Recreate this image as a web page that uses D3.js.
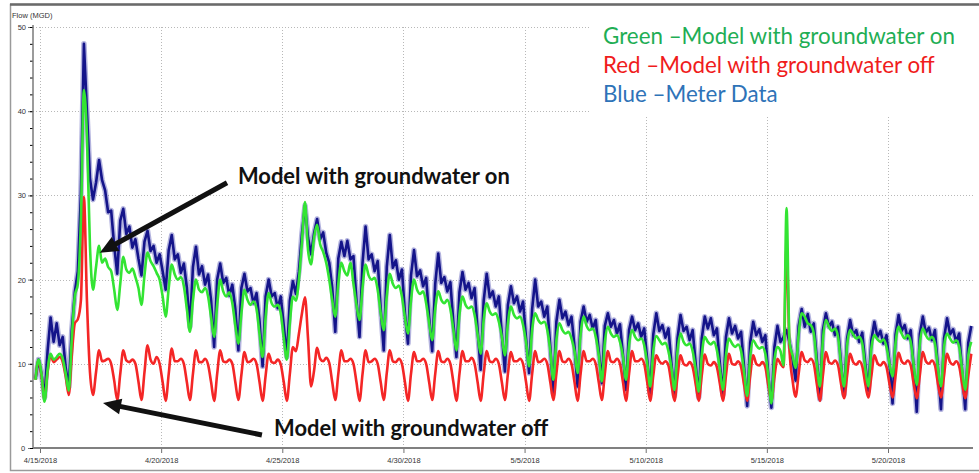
<!DOCTYPE html>
<html>
<head>
<meta charset="utf-8">
<script src="https://cdn.jsdelivr.net/npm/d3@7"></script>
<style>
  body { margin: 0; background: #fff; }
  svg { display: block; }
</style>
</head>
<body>
<div id="plot"></div>
<script>
// Flow (MGD), one row per day.
// Samples every 3 hours: 01:30, 04:30, 07:30 ... 22:30 (first row starts 4/14 19:30)
const sampleStart = Date.UTC(2018, 3, 14, 19, 30);
const stepHours = 3;

const meterFlow = [
  8.2, 10.5,                                     // 4/14
  8.8, 6.0, 11.5, 15.5, 12.6, 14.8, 12.2, 13.2,  // 4/15
  9.5, 7.2, 14.0, 18.5, 21.0, 30.0, 48.0, 40.0,  // 4/16
  32.0, 29.5, 31.5, 34.2, 31.8, 30.6, 28.0, 28.2,
  24.0, 20.7, 27.0, 28.4, 25.4, 26.3, 23.8, 24.8,
  22.5, 20.5, 24.5, 25.8, 23.4, 24.0, 22.0, 23.0,
  21.0, 18.8, 23.5, 25.3, 22.4, 23.0, 20.8, 21.9,  // 4/20
  19.0, 14.4, 21.5, 23.9, 20.6, 21.6, 19.4, 20.6,
  17.5, 12.0, 20.0, 21.9, 19.6, 20.2, 18.1, 19.4,
  16.5, 11.6, 19.0, 20.7, 18.6, 19.0, 17.2, 18.4,
  15.0, 9.7, 18.0, 20.0, 18.0, 18.4, 16.6, 18.0,
  14.5, 10.8, 17.5, 19.8, 18.3, 21.0, 25.5, 28.8,  // 4/25
  25.0, 23.0, 25.5, 27.2, 24.8, 25.6, 23.2, 22.0,
  19.0, 13.8, 22.5, 24.5, 22.8, 24.6, 22.4, 22.8,
  17.5, 13.2, 22.0, 26.3, 22.4, 23.0, 21.0, 22.2,
  16.5, 11.6, 21.5, 25.3, 21.4, 22.3, 20.0, 21.2,
  16.0, 12.4, 20.5, 23.5, 20.4, 21.1, 19.2, 20.2,  // 4/30
  15.5, 11.5, 19.5, 23.1, 19.6, 20.3, 18.6, 19.7,
  14.8, 10.8, 18.5, 20.9, 18.8, 19.6, 17.8, 19.0,
  14.0, 9.3, 17.5, 20.7, 17.9, 18.6, 16.8, 18.0,
  13.5, 9.1, 17.0, 19.2, 17.2, 18.0, 16.2, 17.4,
  13.0, 8.9, 16.5, 20.0, 16.8, 17.4, 15.6, 16.8,   // 5/5
  12.0, 6.5, 15.0, 17.6, 15.4, 16.2, 14.6, 15.6,
  12.0, 7.3, 15.0, 16.8, 15.0, 15.8, 14.2, 15.2,
  11.5, 7.7, 14.5, 16.0, 14.4, 15.2, 13.6, 14.7,
  11.0, 6.9, 14.0, 15.6, 14.0, 14.8, 13.2, 14.2,
  10.5, 6.5, 13.5, 16.0, 13.9, 14.6, 13.1, 14.2,   // 5/10
  10.0, 6.2, 13.0, 15.8, 13.9, 14.4, 12.8, 14.0,
  10.0, 6.0, 13.0, 15.6, 14.2, 15.4, 13.4, 14.2,
  10.0, 6.3, 13.2, 15.4, 13.6, 14.5, 13.0, 13.8,
  9.5, 5.0, 12.5, 15.0, 13.4, 14.1, 12.6, 13.4,
  8.5, 4.8, 12.0, 14.5, 12.6, 13.2, 14.0, 12.5,    // 5/15
  10.5, 8.0, 14.5, 16.5, 14.4, 15.9, 13.8, 14.8,
  10.5, 5.8, 14.0, 16.0, 14.4, 15.0, 13.4, 14.4,
  10.0, 6.3, 13.0, 15.2, 13.4, 14.0, 12.6, 13.7,
  10.0, 6.8, 12.8, 15.0, 13.2, 13.9, 12.4, 13.4,
  10.0, 5.3, 13.5, 15.8, 13.9, 14.6, 13.0, 14.0,   // 5/20
  9.5, 4.3, 13.5, 15.6, 13.7, 14.3, 12.8, 14.0,
  9.5, 4.6, 13.0, 15.4, 13.5, 14.1, 12.6, 13.6,
  9.0, 4.6, 12.5, 14.5                             // 5/23
];

const modelGwOn = [
  8.1, 10.5,
  8.8, 5.5, 9.2, 11.2, 10.5, 10.8, 11.2, 10.6,
  8.8, 6.8, 13.0, 18.0, 19.5, 27.0, 42.5, 37.0,
  24.0, 18.8, 21.5, 24.0, 22.0, 22.5, 21.5, 21.0,
  18.8, 16.4, 19.5, 22.7, 21.2, 20.8, 21.3, 20.3,
  19.0, 17.0, 20.5, 23.2, 22.2, 21.6, 20.8, 20.0,
  18.0, 15.6, 19.0, 21.8, 20.6, 20.0, 20.3, 19.2,
  16.5, 13.8, 17.5, 20.0, 18.8, 18.5, 19.0, 18.0,
  15.5, 13.2, 17.0, 20.0, 18.6, 18.0, 18.5, 17.2,
  14.5, 12.4, 16.0, 18.8, 17.6, 17.0, 17.4, 16.5,
  13.5, 10.8, 15.5, 18.4, 17.2, 16.8, 17.0, 16.0,
  13.0, 10.5, 14.8, 18.0, 17.5, 20.0, 24.5, 29.2,
  23.5, 21.8, 25.0, 26.5, 24.2, 23.3, 22.0, 20.0,
  17.5, 15.6, 19.5, 22.0, 21.0, 20.5, 22.0, 19.5,
  17.0, 15.2, 19.0, 21.8, 20.5, 20.0, 20.2, 18.8,
  16.0, 14.0, 18.0, 20.7, 19.5, 19.0, 19.3, 18.0,
  15.5, 13.6, 17.5, 20.0, 18.8, 18.3, 18.6, 17.2,
  14.8, 12.8, 16.5, 18.6, 17.6, 17.2, 17.6, 16.5,
  14.0, 11.6, 15.8, 18.0, 17.0, 16.6, 16.8, 15.8,
  13.5, 11.2, 15.2, 17.2, 16.2, 15.8, 16.0, 15.0,
  13.2, 11.0, 14.8, 16.8, 15.8, 15.4, 15.6, 14.6,
  12.5, 9.7, 14.0, 16.0, 15.2, 14.8, 15.0, 14.0,
  11.5, 8.1, 12.8, 14.8, 14.0, 13.6, 13.8, 13.0,
  11.5, 8.9, 13.5, 15.6, 14.5, 14.0, 14.2, 13.2,
  11.0, 7.9, 12.5, 14.4, 13.6, 13.2, 13.4, 12.6,
  10.8, 8.1, 12.2, 14.0, 13.2, 12.8, 13.0, 12.2,
  10.0, 7.3, 11.5, 13.3, 12.8, 12.3, 12.5, 11.5,
  9.5, 6.9, 11.5, 13.6, 12.6, 12.2, 12.4, 11.5,
  9.3, 6.7, 11.0, 13.2, 12.6, 12.3, 12.6, 11.6,
  9.3, 6.9, 11.0, 13.0, 12.4, 12.0, 12.3, 11.5,
  9.0, 6.2, 10.8, 12.8, 12.2, 11.8, 12.0, 11.2,
  8.5, 5.3, 10.5, 12.0, 11.5, 9.8, 28.5, 12.5,
  11.0, 9.5, 13.5, 16.0, 15.6, 14.8, 14.6, 13.6,
  10.0, 7.3, 12.8, 15.2, 14.4, 13.9, 14.2, 13.2,
  9.8, 7.3, 12.2, 14.0, 13.5, 13.0, 13.2, 12.4,
  9.5, 7.3, 11.8, 13.4, 12.9, 12.6, 12.9, 12.0,
  10.0, 8.5, 12.5, 14.4, 13.6, 13.0, 13.4, 12.6,
  9.8, 7.5, 12.3, 14.2, 13.4, 12.9, 13.2, 12.4,
  9.5, 7.3, 12.0, 13.6, 13.0, 12.5, 12.8, 12.0,
  9.2, 6.9, 11.0, 12.6
];

const modelGwOff = [
  8.1, 10.4,
  8.6, 5.8, 9.0, 11.0, 10.2, 10.5, 10.8, 10.2,
  8.5, 6.3, 11.0, 14.8, 15.3, 17.5, 29.8, 17.5,
  9.0, 6.3, 9.0, 11.6, 10.3, 10.4, 10.6, 10.0,
  8.0, 5.7, 8.8, 11.6, 10.4, 10.2, 10.5, 10.0,
  7.9, 5.7, 9.0, 12.2, 10.5, 10.0, 10.8, 10.0,
  7.8, 5.6, 8.8, 11.8, 10.3, 10.3, 10.6, 10.0,
  7.8, 5.7, 8.8, 11.6, 10.2, 10.2, 10.6, 9.9,
  7.8, 5.6, 8.8, 11.6, 10.3, 10.2, 10.5, 10.0,
  7.8, 5.7, 8.7, 11.4, 10.2, 10.3, 10.6, 10.0,
  7.8, 5.6, 8.6, 11.2, 10.2, 10.1, 10.5, 9.9,
  7.8, 5.6, 8.8, 12.0, 11.5, 13.6, 16.0, 17.9,
  13.0, 7.3, 9.2, 11.9, 10.6, 10.3, 10.7, 10.1,
  7.8, 5.7, 8.8, 11.6, 10.3, 10.3, 10.6, 10.0,
  7.8, 5.6, 8.8, 11.6, 10.2, 10.3, 10.6, 10.0,
  7.8, 5.7, 8.9, 11.6, 10.3, 10.2, 10.6, 10.0,
  7.8, 5.6, 8.8, 11.4, 10.3, 10.3, 10.6, 10.0,
  7.8, 5.7, 8.8, 11.5, 10.3, 10.2, 10.6, 10.0,
  7.8, 5.6, 8.8, 11.5, 10.3, 10.3, 10.7, 10.0,
  7.8, 5.6, 8.8, 11.5, 10.3, 10.2, 10.6, 10.0,
  7.8, 5.7, 8.8, 11.4, 10.3, 10.3, 10.6, 10.0,
  7.8, 5.6, 8.8, 11.5, 10.2, 10.3, 10.6, 10.0,
  7.8, 5.7, 8.8, 11.5, 10.3, 10.2, 10.6, 10.0,
  7.8, 5.6, 8.8, 11.5, 10.3, 10.3, 10.6, 10.0,
  7.8, 5.7, 8.8, 11.5, 10.3, 10.2, 10.6, 10.0,
  7.8, 5.6, 8.8, 11.5, 10.3, 10.3, 10.6, 10.0,
  7.8, 5.6, 8.6, 11.0, 10.3, 10.0, 10.3, 9.8,
  7.6, 5.6, 8.5, 11.0, 10.0, 9.8, 10.2, 9.6,
  7.6, 5.6, 8.6, 11.1, 10.0, 9.8, 10.2, 9.6,
  7.6, 5.6, 8.6, 11.2, 10.0, 9.9, 10.3, 9.6,
  7.5, 5.6, 8.6, 11.0, 10.0, 9.8, 10.2, 9.6,
  7.4, 5.6, 8.4, 10.6, 10.0, 9.6, 23.9, 11.5,
  8.0, 6.1, 8.8, 11.4, 10.4, 10.2, 10.6, 10.0,
  7.6, 5.6, 8.6, 11.4, 10.2, 10.0, 10.4, 9.8,
  7.6, 5.9, 8.6, 11.2, 10.2, 9.9, 10.3, 9.7,
  7.6, 6.0, 8.5, 11.0, 10.1, 9.8, 10.2, 9.6,
  7.6, 6.0, 8.6, 11.3, 10.3, 10.0, 10.4, 9.8,
  7.6, 5.9, 8.6, 11.4, 10.3, 10.0, 10.4, 9.8,
  7.6, 6.0, 8.6, 11.2, 10.2, 9.9, 10.3, 9.7,
  7.6, 5.9, 8.6, 11.2
];

const yTicks = [0, 10, 20, 30, 40, 50];
const xTickLabels = ["4/15/2018", "4/20/2018", "4/25/2018", "4/30/2018",
                     "5/5/2018", "5/10/2018", "5/15/2018", "5/20/2018"];

const legendLines = [
  {text: "Green \u2013Model with groundwater on", color: "#1fae55"},
  {text: "Red \u2013Model with groundwater off", color: "#f01c1c"},
  {text: "Blue \u2013Meter Data", color: "#2e73b8"}
];

// callouts anchored in data space: [date, flow]
const callouts = [
  {text: "Model with groundwater on", at: ["2018-04-23T04:05Z", 31.35],
   tail: ["2018-04-22T17:15Z", 31.5], tip: ["2018-04-17T11:15Z", 23.2]},
  {text: "Model with groundwater off", at: ["2018-04-24T15:50Z", 1.43],
   tail: ["2018-04-24T03:50Z", 1.55], tip: ["2018-04-17T14:25Z", 5.35]}
];

const width = 979, height = 473;
const plotLeft = 33, plotRight = 973, plotTop = 27, plotBottom = 448;
const axisFont = "'Liberation Sans', Arial, sans-serif";

const svg = d3.select("#plot").append("svg")
  .attr("width", width)
  .attr("height", height);

const parseLabel = d3.utcParse("%m/%d/%Y");
const xTickDates = xTickLabels.map(parseLabel);

const x = d3.scaleUtc()
  .domain([xTickDates[0], xTickDates[xTickDates.length - 1]])
  .range([40, 888]);

const y = d3.scaleLinear()
  .domain([0, 50])
  .range([plotBottom, plotTop]);

const timeAt = i => new Date(sampleStart + i * stepHours * 3600e3);

// frame
svg.append("rect")
  .attr("x", 10.5).attr("y", 4.5)
  .attr("width", 975).attr("height", 466)
  .attr("fill", "#fff")
  .attr("stroke", "#9a9a9a")
  .attr("stroke-width", 1.5);
svg.append("line")
  .attr("x1", 10).attr("x2", width)
  .attr("y1", 4.5).attr("y2", 4.5)
  .attr("stroke", "#6a6a6a")
  .attr("stroke-width", 2.5);

// dotted grid
const grid = svg.append("g")
  .attr("stroke", "#b8b8b8")
  .attr("stroke-width", 1)
  .attr("stroke-dasharray", "1,2");
grid.selectAll(".h").data(yTicks.filter(v => v > 0)).enter().append("line")
  .attr("x1", plotLeft).attr("x2", plotRight)
  .attr("y1", d => Math.round(y(d)) + 0.5).attr("y2", d => Math.round(y(d)) + 0.5);
grid.selectAll(".v").data(xTickDates).enter().append("line")
  .attr("x1", d => Math.round(x(d)) + 0.5).attr("x2", d => Math.round(x(d)) + 0.5)
  .attr("y1", y(50)).attr("y2", plotBottom);

// legend box sits on top of the grid
svg.append("rect")
  .attr("x", 590).attr("y", 12)
  .attr("width", 386).attr("height", 104)
  .attr("fill", "#fff");

// series
const line = d3.line()
  .x((d, i) => x(timeAt(i)))
  .y(d => y(d));

// meter data: soft wide stroke under a crisp core to mimic the noisy trace
svg.append("path")
  .datum(meterFlow)
  .attr("fill", "none")
  .attr("stroke", "#2424a0")
  .attr("stroke-opacity", 0.35)
  .attr("stroke-width", 5.5)
  .attr("stroke-linejoin", "round")
  .attr("d", line.curve(d3.curveLinear));
svg.append("path")
  .datum(meterFlow)
  .attr("fill", "none")
  .attr("stroke", "#14148a")
  .attr("stroke-width", 2.6)
  .attr("stroke-linejoin", "round")
  .attr("d", line.curve(d3.curveLinear));

svg.append("path")
  .datum(modelGwOff)
  .attr("fill", "none")
  .attr("stroke", "#f42626")
  .attr("stroke-width", 2.6)
  .attr("d", line.curve(d3.curveMonotoneX));

svg.append("path")
  .datum(modelGwOn)
  .attr("fill", "none")
  .attr("stroke", "#33e433")
  .attr("stroke-width", 2.6)
  .attr("d", line.curve(d3.curveMonotoneX));

// axes
const yAxis = svg.append("g")
  .attr("transform", `translate(${plotLeft},0)`)
  .call(d3.axisLeft(y).tickValues(yTicks).tickSize(5).tickPadding(2));
svg.append("g")
  .attr("transform", `translate(${plotLeft},0)`)
  .call(d3.axisLeft(y).tickValues(d3.range(0, 51, 2)).tickSize(3).tickFormat(""))
  .call(g => g.select(".domain").remove());

const xAxis = svg.append("g")
  .attr("transform", `translate(0,${plotBottom})`)
  .call(d3.axisBottom(x).tickValues(xTickDates).tickSize(5).tickPadding(5)
    .tickFormat((d, i) => xTickLabels[i]));

[yAxis, xAxis].forEach(g => {
  g.select(".domain").remove();
  g.selectAll(".tick line").attr("stroke", "#707070");
  g.selectAll("text")
    .attr("fill", "#333")
    .style("font-family", axisFont)
    .style("font-size", "7.5px");
});
yAxis.selectAll(".tick:first-of-type text").remove();
svg.append("text")
  .attr("x", 21).attr("y", plotBottom + 3)
  .attr("fill", "#333")
  .style("font-family", axisFont)
  .style("font-size", "7.5px")
  .text("0");

svg.append("line")
  .attr("x1", plotLeft).attr("x2", plotLeft)
  .attr("y1", plotTop - 2).attr("y2", plotBottom)
  .attr("stroke", "#7a7a7a").attr("stroke-width", 1.5);
svg.append("line")
  .attr("x1", plotLeft).attr("x2", plotRight)
  .attr("y1", plotBottom).attr("y2", plotBottom)
  .attr("stroke", "#808080").attr("stroke-width", 2.2);

svg.append("text")
  .attr("x", 12).attr("y", 18)
  .attr("fill", "#333")
  .style("font-family", axisFont)
  .style("font-size", "7.5px")
  .text("Flow (MGD)");

// legend text, sized so the first line spans the same width as in the source
const legend = svg.append("g")
  .style("font-family", "Lato, 'Open Sans', sans-serif")
  .style("font-size", "24px");
legend.selectAll("text").data(legendLines).enter().append("text")
  .attr("x", 603)
  .attr("y", (d, i) => 44 + i * 29)
  .attr("fill", d => d.color)
  .text(d => d.text);
const firstLen = legend.select("text").node().getComputedTextLength();
legend.style("font-size", (24 * 352 / firstLen).toFixed(2) + "px");

// callouts
const callG = svg.append("g");
callouts.forEach(c => {
  const x1 = x(new Date(c.tail[0])), y1 = y(c.tail[1]);
  const x2 = x(new Date(c.tip[0])), y2 = y(c.tip[1]);
  const ang = Math.atan2(y2 - y1, x2 - x1);
  const headLen = 18, headHalf = 8;
  const bx = x2 - headLen * Math.cos(ang), by = y2 - headLen * Math.sin(ang);
  callG.append("line")
    .attr("x1", x1).attr("y1", y1)
    .attr("x2", bx + 2 * Math.cos(ang)).attr("y2", by + 2 * Math.sin(ang))
    .attr("stroke", "#111").attr("stroke-width", 5);
  callG.append("polygon")
    .attr("points", [
      [x2, y2],
      [bx + headHalf * Math.sin(ang), by - headHalf * Math.cos(ang)],
      [bx - headHalf * Math.sin(ang), by + headHalf * Math.cos(ang)]
    ].map(p => p.join(",")).join(" "))
    .attr("fill", "#111");
});

const callText = callG.selectAll("text.call").data(callouts).enter().append("text")
  .attr("class", "call")
  .attr("x", d => x(new Date(d.at[0])))
  .attr("y", d => y(d.at[1]))
  .attr("fill", "#111")
  .style("font-family", "Lato, 'Open Sans', sans-serif")
  .style("font-weight", 700)
  .style("font-size", "22px")
  .text(d => d.text);
const callLen = callText.node().getComputedTextLength();
callText.style("font-size", (22 * 272 / callLen).toFixed(2) + "px");
</script>
</body>
</html>
